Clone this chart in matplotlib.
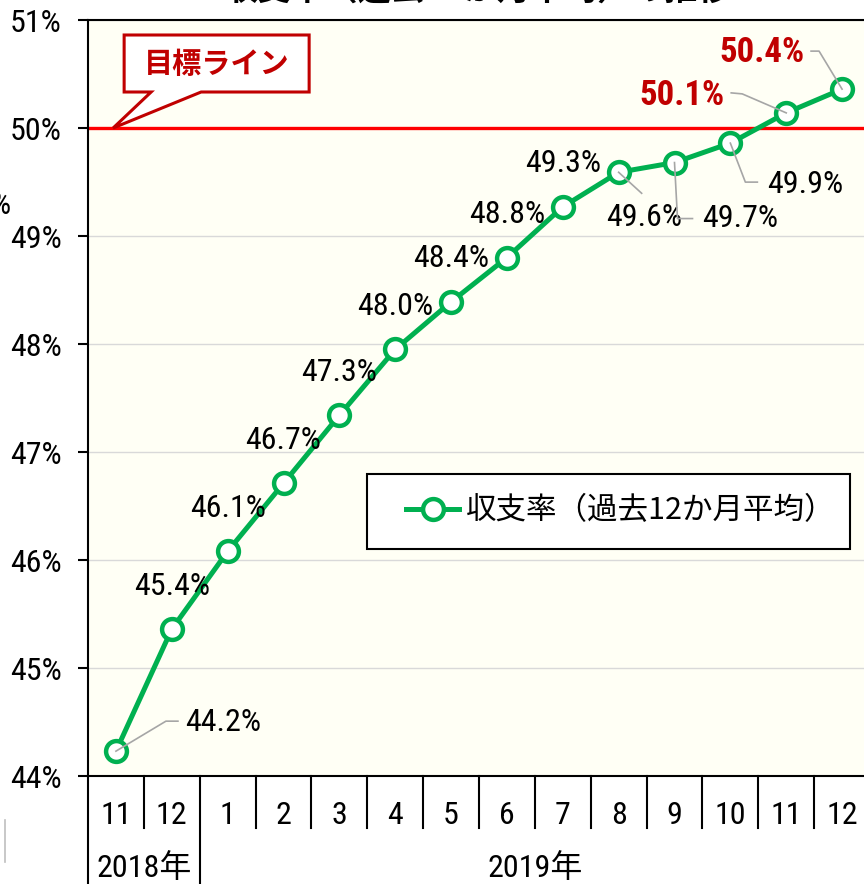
import matplotlib
matplotlib.use('Agg')
import matplotlib.pyplot as plt
import matplotlib.transforms as mtransforms
from matplotlib import font_manager
from matplotlib.lines import Line2D
from matplotlib.patches import Polygon, Rectangle

# data
months = ['11', '12', '1', '2', '3', '4', '5', '6', '7', '8', '9', '10', '11', '12']
years = ['2018年', '2019年']
year_spans = [(0, 1), (2, 13)]
rates = [44.23, 45.36, 46.08, 46.71, 47.34, 47.95, 48.39, 48.80, 49.27, 49.59, 49.68, 49.86, 50.14, 50.36]
rate_labels = ['44.2%', '45.4%', '46.1%', '46.7%', '47.3%', '48.0%', '48.4%', '48.8%',
               '49.3%', '49.6%', '49.7%', '49.9%', '50.1%', '50.4%']
target = 50.0
yticks = [44, 45, 46, 47, 48, 49, 50, 51]
series_name = '収支率（過去12か月平均）'

# look for a narrow / condensed latin face, otherwise Liberation Sans
narrow, stretch = 'Liberation Sans', 'normal'
for f in font_manager.fontManager.ttflist:
    fn = f.fname.lower()
    if ('narrow' in fn or 'condensed' in fn) and 'mono' not in fn and 'serif' not in f.name.lower():
        narrow = f.name
        stretch = 'condensed' if 'condensed' in fn else f.stretch
        if 'liberation' in fn:
            break
plt.rcParams['font.family'] = [narrow, 'Noto Sans CJK JP']
plt.rcParams['font.stretch'] = stretch
cjk = 'Noto Sans CJK JP'
condensed = narrow != 'Liberation Sans'
fs = 23 if condensed else 19

green = '#00B050'
darkred = '#C00000'

fig = plt.figure(figsize=(8.64, 8.84), dpi=100)
ax = fig.add_axes([88/864, 108/884, 782/864, 756/884])
ax.set_facecolor('#FFFFF5')

x = list(range(len(months)))
ax.set_xlim(-0.5, len(months) - 0.5)
ax.set_ylim(yticks[0], yticks[-1])
ax.set_yticks(yticks)
ax.set_yticklabels([f'{v}%' for v in yticks], fontsize=fs)
ax.tick_params(axis='y', length=7, width=1.5, pad=12, direction='out')
ax.set_xticks([])
ax.grid(axis='y', color='#d9d9d9', lw=1)
ax.set_axisbelow(True)
for s in ['left', 'bottom', 'top']:
    ax.spines[s].set_linewidth(1.5)
ax.spines['right'].set_visible(False)

ax.axhline(target, color='#FF0000', lw=2.4, zorder=2)
ax.plot(x, rates, color=green, lw=3.6, marker='o', ms=15, mfc='white',
        mew=3.2, mec=green, zorder=3, label=series_name)

# plain labels above points
for i in range(1, 9):
    ax.annotate(rate_labels[i], (x[i], rates[i]), xytext=(0, 43), textcoords='offset pixels',
                ha='center', va='center', fontsize=fs)

# labels with gray leader lines: text offset, align, red?, path offsets (pixels)
leaders = {
    0: ((69, 29), 'left', False, [(0, 0), (50, 30), (62, 30)]),
    9: ((25, -45), 'center', False, [(0, 0), (23, -21)]),
    10: ((28, -56), 'left', False, [(0, 0), (3, -56), (18, -56)]),
    11: ((37, -41), 'left', False, [(0, 0), (15, -39), (27, -39)]),
    12: ((-62, 17), 'right', True, [(0, 0), (-44, 19), (-55, 20)]),
    13: ((-38, 37), 'right', True, [(0, 0), (-23, 38), (-31, 38)]),
}
ident = mtransforms.IdentityTransform()
for i, (off, ha, red, path) in leaders.items():
    px, py = ax.transData.transform((x[i], rates[i]))
    fig.add_artist(Line2D([px + dx for dx, dy in path], [py + dy for dx, dy in path],
                          color='#a6a6a6', lw=1.2, transform=ident, zorder=6))
    ax.annotate(rate_labels[i], (x[i], rates[i]), xytext=off, textcoords='offset pixels',
                ha=ha, va='center', fontsize=fs + 2 if red else fs,
                color=darkred if red else 'black', fontweight='bold' if red else 'normal',
                zorder=7)

# category axis below
blend = mtransforms.blended_transform_factory(ax.transData, ax.transAxes)
group_edges = {year_spans[0][0] - 0.5, year_spans[1][0] - 0.5}
for k in range(len(months) + 1):
    b = k - 0.5
    depth = 108/756 if b in group_edges else 52/756
    ax.plot([b, b], [0, -depth], transform=blend, color='black', lw=1.5, clip_on=False)
for i, m in enumerate(months):
    ax.text(x[i], -39/756, m, transform=blend, ha='center', va='center', fontsize=fs)
for yr, (a, b) in zip(years, year_spans):
    ax.text((a + b) / 2, -92/756, yr, transform=blend, ha='center', va='center', fontsize=fs)

# legend: box drawn separately so the padding matches
ax.add_patch(Rectangle(((367-88)/782, (776-549)/756), (850-367)/782, 75/756, transform=ax.transAxes,
                       facecolor='white', edgecolor='black', lw=1.5, zorder=4))
leg = ax.legend(loc='center left', bbox_to_anchor=((406-88)/782, (776-511)/756), borderaxespad=0,
                borderpad=0, frameon=False, prop={'family': cjk, 'size': 22},
                handlelength=1.75, handletextpad=0.2)
leg.set_zorder(5)

# callout for target line
tx, ty = ax.transData.transform((-0.05, target))
shape = [(11, 93), (196, 93), (196, 36), (88, 36), (0, 0), (38, 36), (11, 36)]
fig.add_artist(Polygon([(tx + a, ty + b) for a, b in shape], closed=True, facecolor='white',
                       edgecolor=darkred, lw=2.2, joinstyle='miter', transform=ident, zorder=8))
fig.text((tx + 104) / 864, (ty + 64) / 884, '目標ライン', ha='center', va='center', fontsize=21,
         fontweight='bold', color=darkred, family=cjk, zorder=9)

# clipped bits around the edges (cut off in the reference too)
fig.text(478/864, 1 - 7/884, '収支率（過去12か月平均）の推移', ha='center', va='bottom',
         fontsize=24, fontweight='bold', family=cjk)
fig.text(10/864, 1 - 205/884, '%', ha='right', va='center', fontsize=fs)
fig.add_artist(Line2D([5/864, 5/864], [1 - 820/884, 1 - 862/884], color='#bfbfbf', lw=1.2))

fig.savefig('out.png', dpi=100)
